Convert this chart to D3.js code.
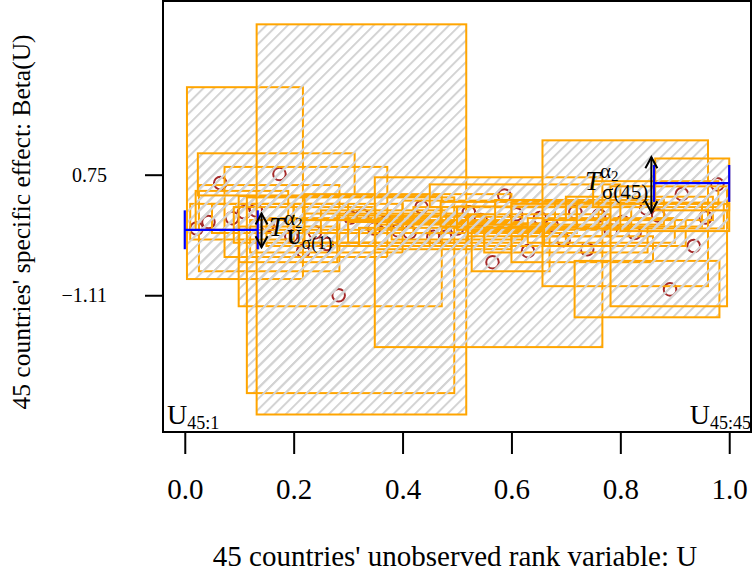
<!DOCTYPE html>
<html>
<head>
<meta charset="utf-8">
<script src="https://cdn.jsdelivr.net/npm/d3@7"></script>
<style>
body { margin: 0; background: #fff; }
text { font-family: "Liberation Serif", "DejaVu Serif", serif; }
</style>
</head>
<body>
<div id="canvas"></div>
<script>
var w = 753;
var h = 576;

// rank position of each country: i/46
var country = d3.range(1, 46);
// specific effect of each country (circles)
var beta = [-0.08, 0.02, 0.62, 0.08, 0.17, 0.20, -0.03, 0.76, -0.20, -0.43,
            -0.14, -0.32, -1.11, 0.09, 0.12, -0.08, 0.02, -0.11, -0.14, 0.25,
            -0.21, -0.21, -0.08, 0.17, 0.05, -0.60, 0.43, 0.14, -0.43, 0.08,
            -0.03, -0.26, 0.17, -0.40, 0.12, -0.11, 0.02, -0.15, 0.23, 0.12,
            -1.02, 0.45, -0.35, 0.09, 0.60];
// rectangle of each country: U interval and Beta interval
var rectULo = [0.026, 0.01, 0.004, 0.05, 0.073, 0.02, 0.09, 0.024, 0.12, 0.099,
               0.15, 0.10, 0.114, 0.20, 0.132, 0.22, 0.25, 0.28, 0.30, 0.22,
               0.35, 0.32, 0.38, 0.40, 0.42, 0.349, 0.45, 0.47, 0.527, 0.50,
               0.52, 0.55, 0.57, 0.60, 0.60, 0.63, 0.657, 0.66, 0.70, 0.72,
               0.716, 0.75, 0.782, 0.80, 0.864];
var rectUHi = [0.284, 0.20, 0.217, 0.30, 0.372, 0.19, 0.35, 0.312, 0.40, 0.472,
               0.45, 0.28, 0.495, 0.40, 0.517, 0.52, 0.48, 0.55, 0.62, 0.60,
               0.60, 0.70, 0.62, 0.68, 0.72, 0.767, 0.80, 0.76, 0.670, 0.82,
               0.78, 0.85, 0.88, 0.86, 0.95, 0.90, 0.961, 0.92, 0.97, 0.99,
               0.982, 0.98, 0.996, 1.00, 1.00];
var rectBLo = [-0.74, -0.25, -0.86, -0.15, -0.52, -0.10, -0.30, 0.43, -0.45, -1.28,
               -0.35, -0.60, -2.62, -0.10, -2.95, -0.30, -0.15, -0.35, -0.30, 0.05,
               -0.40, -0.35, -0.25, 0.00, -0.15, -1.91, 0.25, -0.05, -0.74, -0.10,
               -0.20, -0.45, -0.02, -0.60, -0.05, -0.30, -0.97, -0.35, 0.05, -0.08,
               -1.45, 0.25, -1.28, -0.12, 0.20];
var rectBHi = [0.59, 0.30, 2.10, 0.30, 0.87, 0.50, 0.25, 1.08, 0.05, 0.42,
               0.08, -0.05, 0.40, 0.30, 3.07, 0.15, 0.20, 0.12, 0.02, 0.45,
               -0.02, -0.07, 0.10, 0.35, 0.25, 0.71, 0.60, 0.33, -0.12, 0.26,
               0.14, -0.07, 0.36, -0.20, 0.30, 0.08, 1.28, 0.05, 0.41, 0.32,
               -0.58, 0.65, 0.57, 0.30, 1.00];

var xTicks = [0, 0.2, 0.4, 0.6, 0.8, 1.0];
var yTicks = [0.75, -1.11];

// interval bars and arrows (blue = U interval, black = Beta interval)
var leftBar = {u0: 0, u1: 0.134, b: -0.10, cap0: 0.20, cap1: -0.40};
var rightBar = {u0: 0.862, u1: 1.0, b: 0.62, cap0: 0.90, cap1: 0.33};
var leftArrow = {u: 0.141, b0: 0.15, b1: -0.37};
var rightArrow = {u: 0.857, b0: 1.02, b1: 0.17};

var svg = d3.select("#canvas").append("svg")
  .attr("width", w)
  .attr("height", h)
  .style("background-color", "white");

var xScale = d3.scaleLinear().domain([-0.04, 1.04]).range([163, 751]);
var yScale = d3.scaleLinear().domain([-3.22, 3.43]).range([432, 1]);

// hatch pattern, aligned over the whole page like R's density lines
var defs = svg.append("defs");
var pat = defs.append("pattern")
  .attr("id", "hatch")
  .attr("patternUnits", "userSpaceOnUse")
  .attr("width", 7.6)
  .attr("height", 10)
  .attr("patternTransform", "rotate(45)");
pat.append("line")
  .attr("x1", 1).attr("y1", 0)
  .attr("x2", 1).attr("y2", 10)
  .attr("stroke", "#d3d3d3")
  .attr("stroke-width", 2);

defs.append("clipPath").attr("id", "plotclip")
  .append("rect")
  .attr("x", 163).attr("y", 1)
  .attr("width", 588).attr("height", 431);

var plot = svg.append("g").attr("clip-path", "url(#plotclip)");

// points first
plot.selectAll("circle")
  .data(country)
  .join("circle")
  .attr("cx", function(d){ return xScale(d/46); })
  .attr("cy", function(d,i){ return yScale(beta[i]); })
  .attr("r", 6.3)
  .attr("fill", "none")
  .attr("stroke", "#a52a2a")
  .attr("stroke-width", 2);

// rectangles: hatch then border, one after another
country.forEach(function(d,i){
  var x0 = xScale(rectULo[i]), x1 = xScale(rectUHi[i]);
  var y0 = yScale(rectBHi[i]), y1 = yScale(rectBLo[i]);
  plot.append("rect")
    .attr("x", x0).attr("y", y0)
    .attr("width", x1-x0).attr("height", y1-y0)
    .attr("fill", "url(#hatch)")
    .attr("stroke", "none");
  plot.append("rect")
    .attr("x", x0).attr("y", y0)
    .attr("width", x1-x0).attr("height", y1-y0)
    .attr("fill", "none")
    .attr("stroke", "orange")
    .attr("stroke-width", 2);
});

function bar(o){
  var g = plot.append("g").attr("stroke", "blue").attr("stroke-width", 2.2);
  g.append("line")
    .attr("x1", xScale(o.u0)).attr("x2", xScale(o.u1))
    .attr("y1", yScale(o.b)).attr("y2", yScale(o.b));
  [o.u0, o.u1].forEach(function(u){
    g.append("line")
      .attr("x1", xScale(u)).attr("x2", xScale(u))
      .attr("y1", yScale(o.cap0)).attr("y2", yScale(o.cap1));
  });
}
bar(leftBar);
bar(rightBar);

function arrow(o){
  var x = xScale(o.u), ya = yScale(o.b0), yb = yScale(o.b1);
  var hl = 11, hw = 6;
  var g = plot.append("g").attr("stroke", "black").attr("stroke-width", 2).attr("fill", "none");
  g.append("line").attr("x1", x).attr("x2", x).attr("y1", ya).attr("y2", yb);
  g.append("path").attr("d", "M" + (x-hw) + "," + (ya+hl) + "L" + x + "," + ya + "L" + (x+hw) + "," + (ya+hl));
  g.append("path").attr("d", "M" + (x-hw) + "," + (yb-hl) + "L" + x + "," + yb + "L" + (x+hw) + "," + (yb-hl));
}
arrow(leftArrow);
arrow(rightArrow);

// T labels, each one text element with sub/superscripts
var tl = svg.append("text").attr("x", 269).attr("y", 236).attr("fill", "black");
tl.append("tspan").text("T").style("font-style", "italic").style("font-size", "27px");
tl.append("tspan").text("\u03b1").attr("dy", -11).style("font-size", "21px");
tl.append("tspan").text("2").attr("dy", 3).style("font-size", "15px");
tl.append("tspan").text("U").attr("x", 287).attr("y", 244).style("font-size", "20px").style("font-weight", "bold");
tl.append("tspan").text("\u03c3(1)").attr("dy", 5).style("font-size", "18px");

var tr = svg.append("text").attr("x", 585).attr("y", 190).attr("fill", "black");
tr.append("tspan").text("T").style("font-style", "italic").style("font-size", "27px");
tr.append("tspan").text("\u03b1").attr("dy", -12).style("font-size", "21px");
tr.append("tspan").text("2").attr("dy", 3).style("font-size", "15px");
tr.append("tspan").text("\u03c3(45)").attr("x", 602).attr("y", 199).style("font-size", "21px");

// corner labels
var cl = svg.append("text").attr("x", 167).attr("y", 424).attr("fill", "black");
cl.append("tspan").text("U").style("font-size", "28px");
cl.append("tspan").text("45:1").attr("dy", 5).style("font-size", "18px");
var cr = svg.append("text").attr("x", 751).attr("y", 424).attr("fill", "black").attr("text-anchor", "end");
cr.append("tspan").text("U").style("font-size", "28px");
cr.append("tspan").text("45:45").attr("dy", 5).style("font-size", "18px");

// box
svg.append("rect")
  .attr("x", 163).attr("y", 1)
  .attr("width", 588).attr("height", 431)
  .attr("fill", "none")
  .attr("stroke", "black")
  .attr("stroke-width", 2);

// axes
var xAxis = d3.axisBottom(xScale).tickValues(xTicks).tickSize(22).tickSizeOuter(0).tickPadding(24)
  .tickFormat(d3.format(".1f"));
var gx = svg.append("g").attr("transform", "translate(0,432)").call(xAxis);
gx.select(".domain").remove();
gx.selectAll(".tick line").attr("stroke-width", 2);
gx.selectAll("text").style("font-family", "Liberation Serif").style("font-size", "29px");

var yAxis = d3.axisLeft(yScale).tickValues(yTicks).tickSize(18).tickSizeOuter(0).tickPadding(38)
  .tickFormat(function(d){ return d < 0 ? "\u2212" + Math.abs(d).toFixed(2) : d.toFixed(2); });
var gy = svg.append("g").attr("transform", "translate(163,0)").call(yAxis);
gy.select(".domain").remove();
gy.selectAll(".tick line").attr("stroke-width", 2);
gy.selectAll("text").style("font-family", "Liberation Serif").style("font-size", "20px");

// axis titles
svg.append("text")
  .attr("x", 455).attr("y", 566)
  .attr("text-anchor", "middle")
  .style("font-size", "29px")
  .text("45 countries' unobserved rank variable: U");
svg.append("text")
  .attr("transform", "translate(30,222) rotate(-90)")
  .attr("text-anchor", "middle")
  .style("font-size", "25.5px")
  .text("45 countries' specific effect: Beta(U)");
</script>
</body>
</html>
